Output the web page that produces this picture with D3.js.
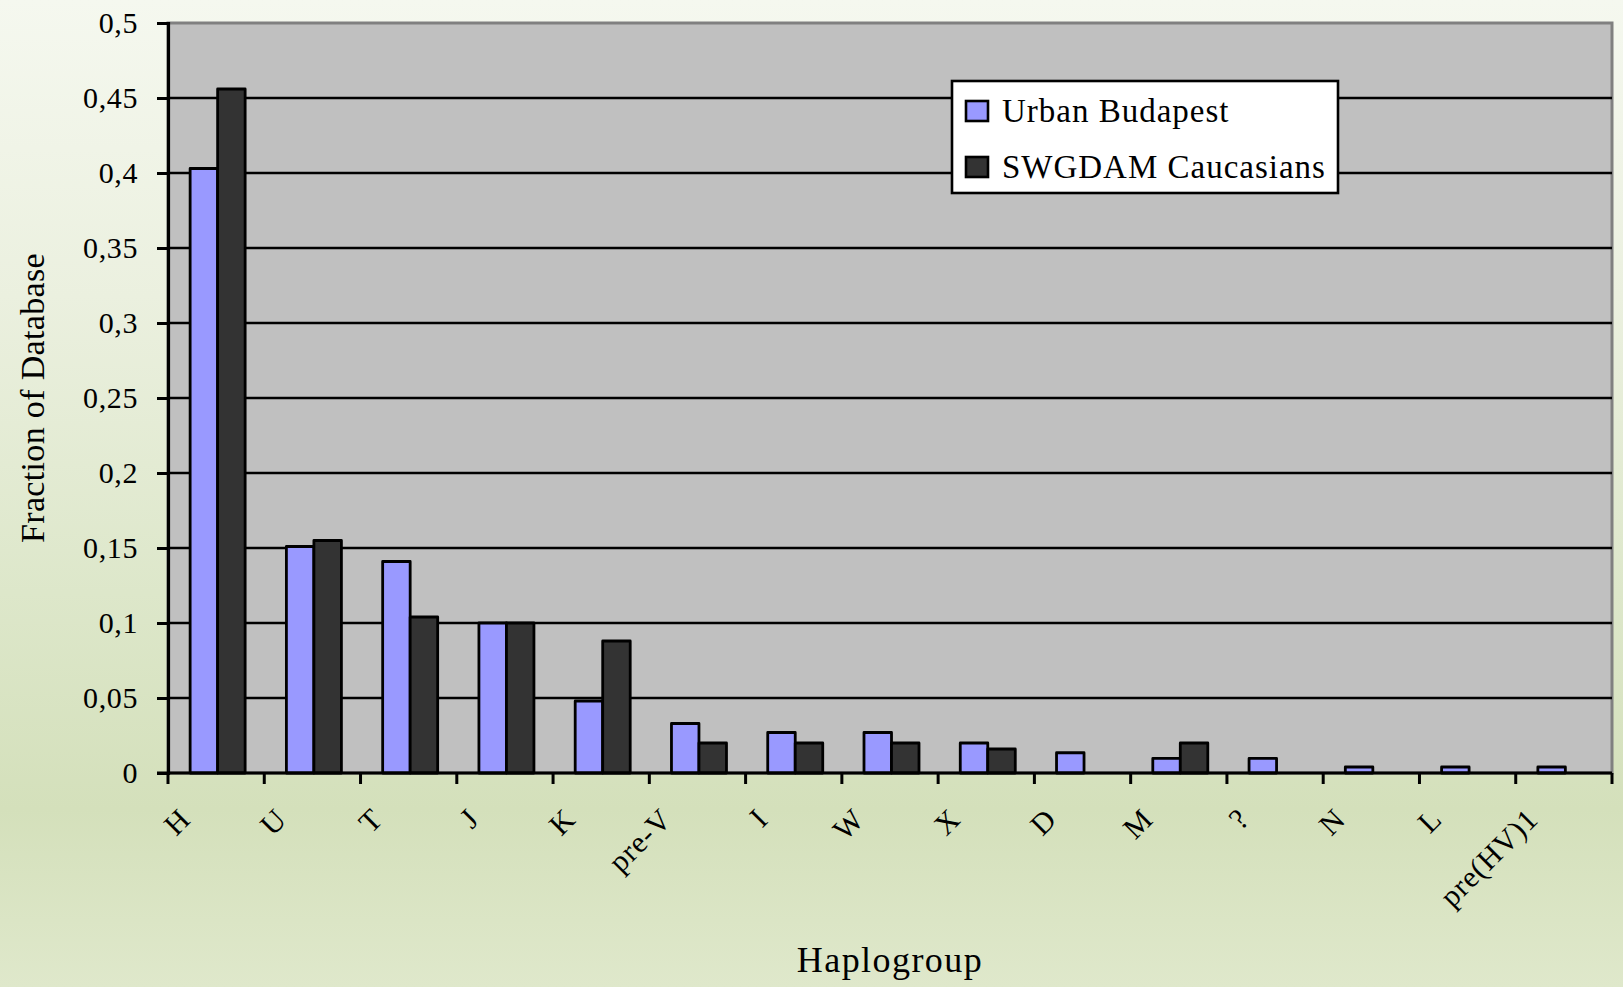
<!DOCTYPE html>
<html>
<head>
<meta charset="utf-8">
<script src="https://cdn.jsdelivr.net/npm/d3@7"></script>
<style>
  html, body { margin: 0; padding: 0; background: #fff; }
  svg { display: block; }
  text { font-family: "Liberation Serif", "Times New Roman", serif; fill: #000; }
</style>
</head>
<body>
<svg id="chart" width="1623" height="987"></svg>
<script>
// Haplogroup frequencies: Urban Budapest sample vs SWGDAM Caucasian database
const haplogroups = ["H", "U", "T", "J", "K", "pre-V", "I", "W", "X", "D", "M", "?", "N", "L", "pre(HV)1"];
const urbanBudapest = [0.403, 0.151, 0.141, 0.100, 0.048, 0.033, 0.027, 0.027, 0.020, 0.0135, 0.0097, 0.0097, 0.004, 0.004, 0.004];
const swgdamCaucasians = [0.456, 0.155, 0.104, 0.100, 0.088, 0.020, 0.020, 0.020, 0.016, 0, 0.020, 0, 0, 0, 0];
const seriesNames = ["Urban Budapest", "SWGDAM Caucasians"];
const seriesColors = ["#9999FF", "#333333"];
const yTicks = [0, 0.05, 0.1, 0.15, 0.2, 0.25, 0.3, 0.35, 0.4, 0.45, 0.5];

const W = 1623, H = 987;
const plot = { left: 168, right: 1612, top: 23, bottom: 773 };

const svg = d3.select("#chart");

// page background gradient
const defs = svg.append("defs");
const grad = defs.append("linearGradient").attr("id", "bg")
  .attr("x1", 0).attr("y1", 0).attr("x2", 0).attr("y2", 1);
[[0, "#F5F8EF"], [0.3, "#EBF0DF"], [0.6, "#DDE7CA"], [0.82, "#D4E0BB"], [1, "#DFE8CB"]]
  .forEach(([o, c]) => grad.append("stop").attr("offset", o).attr("stop-color", c));
svg.append("rect").attr("width", W).attr("height", H).attr("fill", "url(#bg)");

const x = d3.scaleBand().domain(haplogroups).range([plot.left, plot.right]).padding(0);
const xs = d3.scaleBand().domain(seriesNames).range([0, x.bandwidth()])
  .paddingInner(0).paddingOuter(0.75);
const y = d3.scaleLinear().domain([0, 0.5]).range([plot.bottom, plot.top]);

// plot area
svg.append("rect")
  .attr("x", plot.left).attr("y", plot.top)
  .attr("width", plot.right - plot.left).attr("height", plot.bottom - plot.top)
  .attr("fill", "#C0C0C0").attr("stroke", "#808080").attr("stroke-width", 3);

// horizontal gridlines
svg.append("g").selectAll("line")
  .data(yTicks.filter(t => t > 0 && t < 0.5))
  .join("line")
  .attr("x1", plot.left).attr("x2", plot.right)
  .attr("y1", d => y(d)).attr("y2", d => y(d))
  .attr("stroke", "#000").attr("stroke-width", 2.6);

// bars
const series = [urbanBudapest, swgdamCaucasians];
const barG = svg.append("g");
series.forEach((vals, si) => {
  barG.append("g").selectAll("rect")
    .data(haplogroups.map((h, i) => ({ h, v: vals[i] })).filter(d => d.v > 0))
    .join("rect")
    .attr("x", d => x(d.h) + xs(seriesNames[si]) + 1.5)
    .attr("y", d => y(d.v))
    .attr("width", xs.bandwidth())
    .attr("height", d => y(0) - y(d.v))
    .attr("fill", seriesColors[si])
    .attr("stroke", "#000").attr("stroke-width", 2.8)
    .attr("stroke-linejoin", "round");
});

// y axis
const yAxis = svg.append("g").attr("transform", `translate(${plot.left},0)`)
  .call(d3.axisLeft(y).tickValues(yTicks).tickSize(11).tickPadding(19)
    .tickFormat(d => d3.format("~g")(d).replace(".", ",")));
yAxis.select(".domain").attr("stroke", "#000").attr("stroke-width", 3.2);
yAxis.selectAll(".tick line").attr("stroke", "#000").attr("stroke-width", 3);
yAxis.selectAll(".tick text")
  .attr("font-size", 30).attr("letter-spacing", "0.02em")
  .attr("font-family", "Liberation Serif").attr("fill", "#000");

// x axis with ticks at category boundaries
const xBounds = haplogroups.map(h => x(h)).concat([x.range()[1]]);
const xAxisG = svg.append("g");
xAxisG.append("line")
  .attr("x1", plot.left - 11).attr("x2", plot.right)
  .attr("y1", plot.bottom).attr("y2", plot.bottom)
  .attr("stroke", "#000").attr("stroke-width", 3.2);
xAxisG.selectAll("line.tk").data(xBounds).join("line").attr("class", "tk")
  .attr("x1", d => d).attr("x2", d => d)
  .attr("y1", plot.bottom).attr("y2", plot.bottom + 11)
  .attr("stroke", "#000").attr("stroke-width", 3);
xAxisG.selectAll("text").data(haplogroups).join("text")
  .attr("transform", d => `translate(${x(d) + x.bandwidth() / 2 - 24},${plot.bottom + 48}) rotate(-45)`)
  .attr("text-anchor", "end")
  .attr("font-size", 30).attr("letter-spacing", "0.03em")
  .text(d => d);

// axis titles
svg.append("text")
  .attr("x", (plot.left + plot.right) / 2).attr("y", 972)
  .attr("text-anchor", "middle").attr("font-size", 36).attr("letter-spacing", "0.04em")
  .text("Haplogroup");
svg.append("text")
  .attr("transform", `translate(44,${(plot.top + plot.bottom) / 2}) rotate(-90)`)
  .attr("text-anchor", "middle").attr("font-size", 34).attr("letter-spacing", "0.01em")
  .text("Fraction of Database");

// legend
const lg = svg.append("g").attr("transform", "translate(952,81)");
lg.append("rect").attr("width", 386).attr("height", 112)
  .attr("fill", "#fff").attr("stroke", "#000").attr("stroke-width", 2.6);
const items = lg.selectAll("g.item").data(seriesNames).join("g").attr("class", "item")
  .attr("transform", (d, i) => `translate(14,${20 + i * 56})`);
items.append("rect").attr("width", 22).attr("height", 20)
  .attr("fill", (d, i) => seriesColors[i]).attr("stroke", "#000").attr("stroke-width", 2.6);
items.append("text").attr("x", 36).attr("y", 21)
  .attr("font-size", 33).attr("letter-spacing", "0.03em")
  .text(d => d);
</script>
</body>
</html>
